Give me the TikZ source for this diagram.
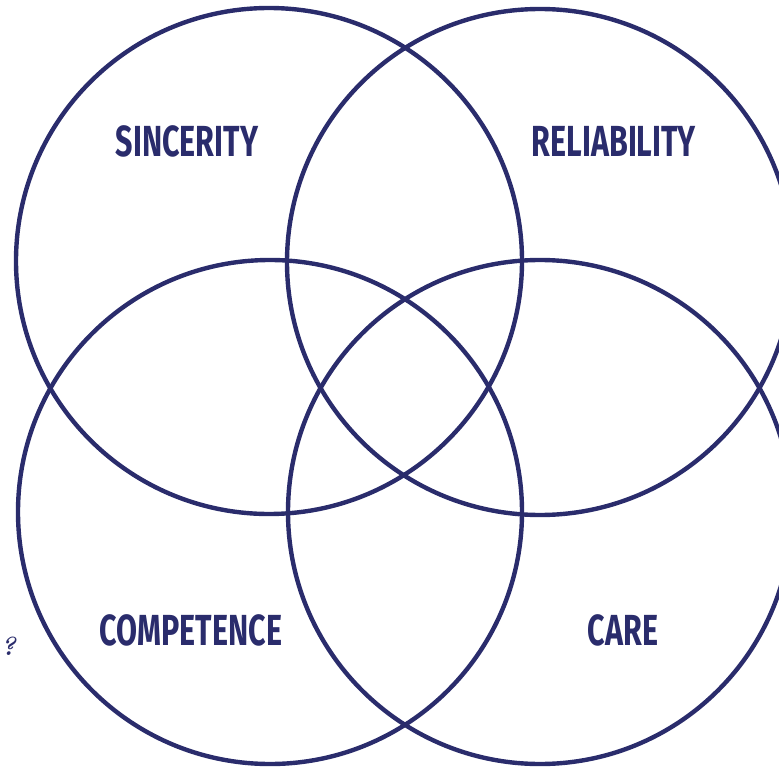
\documentclass[tikz,border=0pt]{standalone}
\usepackage{fontspec}
\newfontfamily\labelfont[FakeStretch=0.70]{Fira Sans}
\definecolor{navy}{RGB}{42,44,108}
\tikzset{
  ring/.style={draw=navy,line width=4.4pt},
  lbl/.style={text=navy,font=\labelfont\bfseries\fontsize{43.5}{44}\selectfont,inner sep=0pt}
}
\begin{document}
\begin{tikzpicture}[x=1pt,y=-1pt]
    \useasboundingbox (0,0) rectangle (779,770);
    % the four rings
    \draw[ring] (269,261) circle (253);
    \draw[ring] (540,262) circle (253);
    \draw[ring] (270,512) circle (252);
    \draw[ring] (540,512) circle (252);
    % labels
    \node[lbl] (sincerity) at (187,141) {SINCERITY};
    \node[lbl] (reliability) at (614,141) {RELIABILITY};
    \node[lbl] (competence) at (191,630) {COMPETENCE};
    \node[lbl] (care) at (623,630) {CARE};
    % small mark on the left edge
    \node[text=navy,font=\bfseries\itshape\fontsize{26}{26}\selectfont,inner sep=0pt,anchor=west] (mark) at (0.5,646) {?};
\end{tikzpicture}
\end{document}
